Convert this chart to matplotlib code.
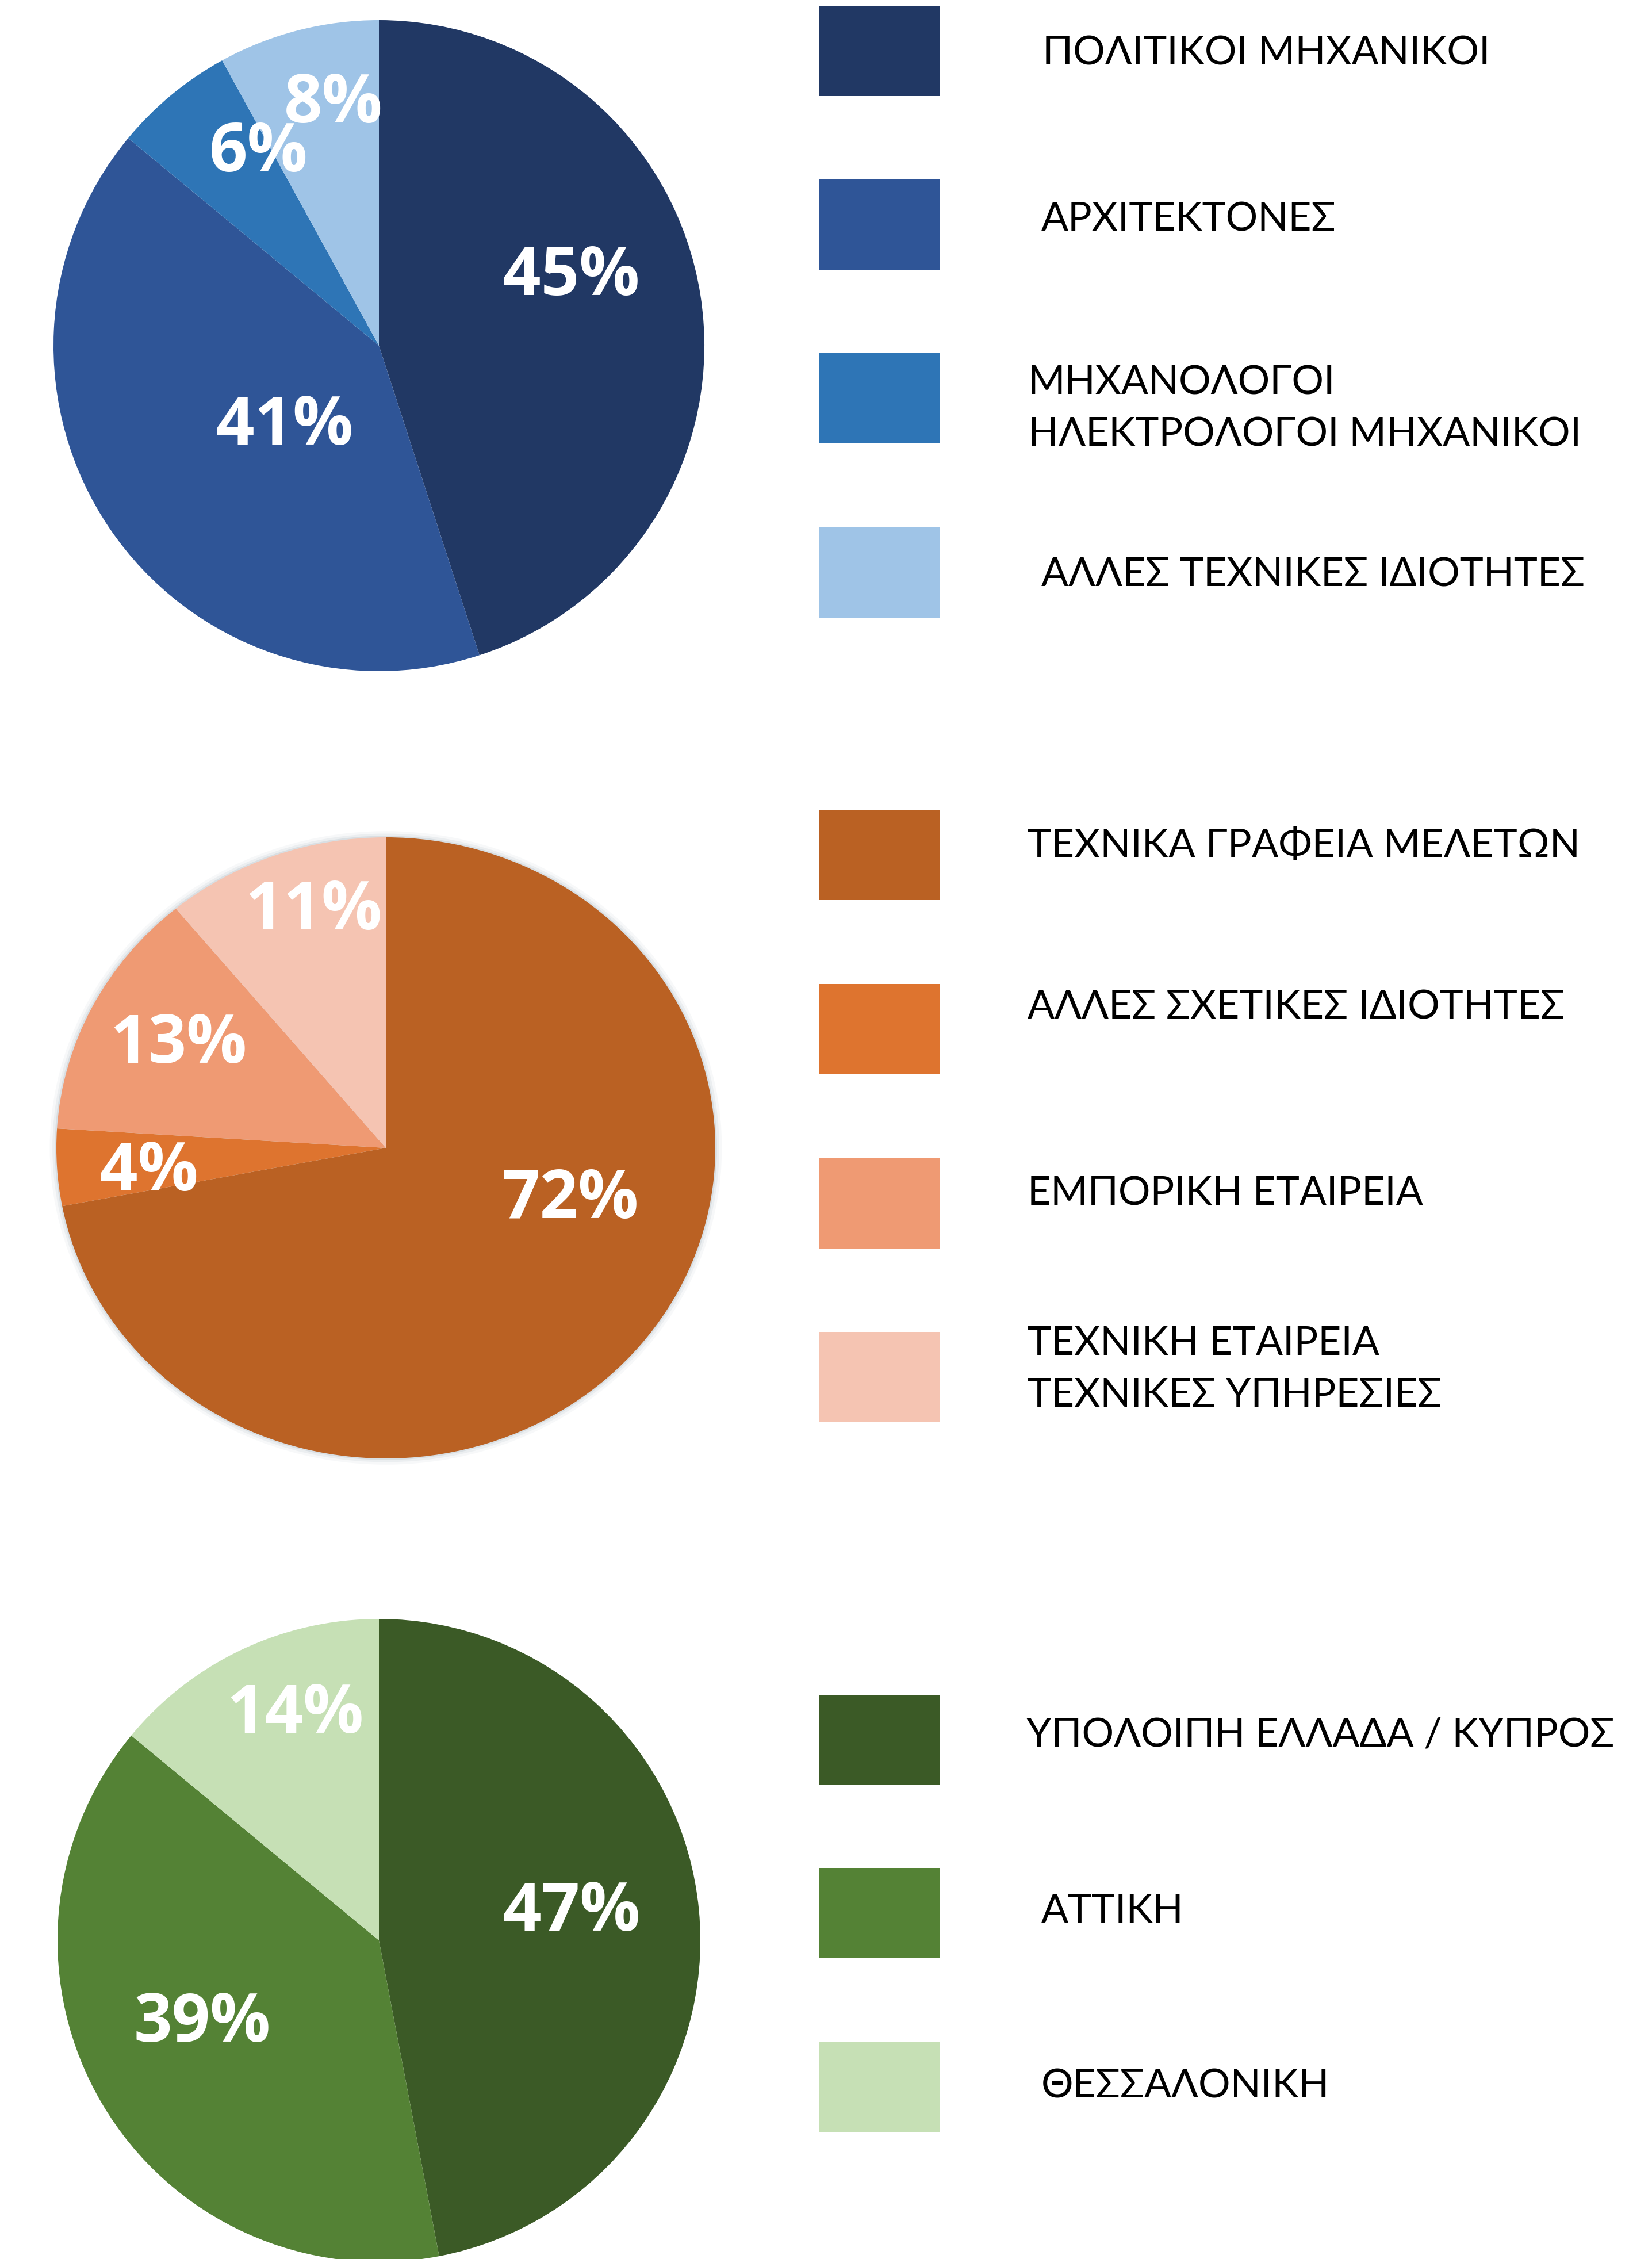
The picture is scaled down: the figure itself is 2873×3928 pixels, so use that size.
import matplotlib
matplotlib.use("Agg")
import matplotlib.pyplot as plt
from matplotlib.patches import Rectangle, Ellipse

# μέγεθος εικόνας σε pixels
W, H = 2873, 3928
DPI = 100

# --- δεδομένα ---
# 1η πίτα: ειδικότητες
spec_labels = ["ΠΟΛΙΤΙΚΟΙ ΜΗΧΑΝΙΚΟΙ", "ΑΡΧΙΤΕΚΤΟΝΕΣ",
               "ΜΗΧΑΝΟΛΟΓΟΙ\nΗΛΕΚΤΡΟΛΟΓΟΙ ΜΗΧΑΝΙΚΟΙ", "ΑΛΛΕΣ ΤΕΧΝΙΚΕΣ ΙΔΙΟΤΗΤΕΣ"]
spec_values = [45, 41, 6, 8]
spec_colors = ["#213864", "#2F5597", "#2E75B6", "#9FC4E7"]

# 2η πίτα: μορφή επιχείρησης
type_labels = ["ΤΕΧΝΙΚΑ ΓΡΑΦΕΙΑ ΜΕΛΕΤΩΝ", "ΑΛΛΕΣ ΣΧΕΤΙΚΕΣ ΙΔΙΟΤΗΤΕΣ",
               "ΕΜΠΟΡΙΚΗ ΕΤΑΙΡΕΙΑ", "ΤΕΧΝΙΚΗ ΕΤΑΙΡΕΙΑ\nΤΕΧΝΙΚΕΣ ΥΠΗΡΕΣΙΕΣ"]
type_values = [72, 4, 13, 11]
type_colors = ["#BA6123", "#DE742F", "#EF9A73", "#F5C4B2"]

# 3η πίτα: περιοχή
region_labels = ["ΥΠΟΛΟΙΠΗ ΕΛΛΑΔΑ / ΚΥΠΡΟΣ", "ΑΤΤΙΚΗ", "ΘΕΣΣΑΛΟΝΙΚΗ"]
region_values = [47, 39, 14]
region_colors = ["#3B5A26", "#548235", "#C6E0B5"]

# --- διάταξη (pixels) ---
# κέντρο x, κέντρο y, ακτίνα x, ακτίνα y
pie_boxes = [(659, 601, 566, 566), (671, 1996, 573, 540), (659, 3374, 559, 559)]
# θέσεις ποσοστών σε μονάδες ακτίνας
label_pos = [
    [(0.59, 0.21), (-0.29, -0.25), (-0.37, 0.59), (-0.14, 0.74)],
    [(0.56, -0.17), (-0.72, -0.08), (-0.63, 0.33), (-0.22, 0.76)],
    [(0.60, 0.085), (-0.55, -0.26), (-0.26, 0.70)],
]
# υπόμνημα: πάνω άκρη ορθογωνίων, κέντρο κειμένου, αρχή κειμένου
legend_rect_top = [[10, 312, 614, 917], [1408, 1711, 2014, 2316], [2947, 3248, 3550]]
legend_text_y = [[87, 376, 705, 994], [1466, 1746, 2071, 2376], [3012, 3318, 3622]]
legend_text_x = [[1813, 1811, 1788, 1811], [1787, 1787, 1787, 1787], [1785, 1811, 1811]]
RECT_X, RECT_W, RECT_H = 1425, 210, 157

pct_font = ["Open Sans", "DejaVu Sans"]
leg_font = ["Lato", "DejaVu Sans"]

fig = plt.figure(figsize=(W / DPI, H / DPI), dpi=DPI)
fig.patch.set_facecolor("white")

# άξονας σε pixels για το υπόμνημα
bg = fig.add_axes([0, 0, 1, 1])
bg.set_xlim(0, W)
bg.set_ylim(H, 0)
bg.axis("off")

all_values = [spec_values, type_values, region_values]
all_colors = [spec_colors, type_colors, region_colors]
all_labels = [spec_labels, type_labels, region_labels]

for i, (vals, cols) in enumerate(zip(all_values, all_colors)):
    cx, cy, rx, ry = pie_boxes[i]
    ax = fig.add_axes([(cx - rx) / W, 1 - (cy + ry) / H, 2 * rx / W, 2 * ry / H])
    if i == 1:
        # απαλή σκιά γύρω από τη 2η πίτα
        for k, a in [(1.02, 0.10), (1.012, 0.18), (1.005, 0.35)]:
            ax.add_patch(Ellipse((0, 0), 2 * k, 2 * k, color="#b9c3cc", alpha=a,
                                 lw=0, clip_on=False))
    wedges, _ = ax.pie(vals, colors=cols, startangle=90, counterclock=False, radius=1,
                       wedgeprops=dict(linewidth=0))
    for w in wedges:
        w.set_clip_on(False)
    ax.set_aspect("auto")
    ax.set_xlim(-1, 1)
    ax.set_ylim(-1, 1)
    ax.axis("off")
    # ποσοστά
    for v, (px, py) in zip(vals, label_pos[i]):
        ax.text(px, py, f"{v}%", color="white", fontsize=84, fontweight="bold",
                family=pct_font, ha="center", va="center")

# υπόμνημα
for i in range(3):
    for j, lab in enumerate(all_labels[i]):
        top = legend_rect_top[i][j]
        bg.add_patch(Rectangle((RECT_X, top), RECT_W, RECT_H, color=all_colors[i][j], lw=0))
        lines = lab.split("\n")
        step = 90
        y0 = legend_text_y[i][j] - step * (len(lines) - 1) / 2
        for n, line in enumerate(lines):
            bg.text(legend_text_x[i][j], y0 + n * step + 25, line, fontsize=50,
                    family=leg_font, fontweight="normal", color="black",
                    ha="left", va="baseline")

plt.savefig("out.png", dpi=DPI, facecolor="white")
